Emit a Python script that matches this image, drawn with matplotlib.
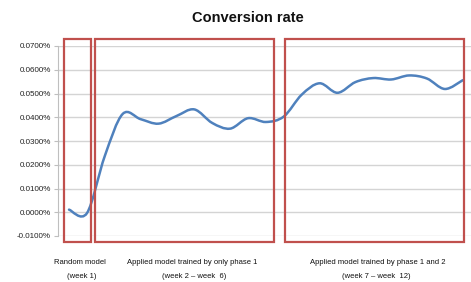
import numpy as np
import matplotlib
matplotlib.use("Agg")
import matplotlib.pyplot as plt
from matplotlib.path import Path
from matplotlib.patches import PathPatch, Rectangle

# ---- data (conversion rate, in percent) ----
rate = [0.0011, -0.0004, 0.0237, 0.0414, 0.0392, 0.0373, 0.0405, 0.0433,
        0.0376, 0.0352, 0.0396, 0.0380, 0.0403, 0.0495, 0.0543, 0.0503,
        0.0548, 0.0565, 0.0559, 0.0576, 0.0563, 0.0519, 0.0556]
yticks = [-0.01, 0.0, 0.01, 0.02, 0.03, 0.04, 0.05, 0.06, 0.07]
title = "Conversion rate"
group_labels = [("Random model", "(week 1)"),
                ("Applied model trained by only phase 1", "(week 2 \u2013 week  6)"),
                ("Applied model trained by phase 1 and 2", "(week 7 \u2013 week  12)")]

W, H = 471, 282
fig = plt.figure(figsize=(W / 100, H / 100), dpi=100)
plt.rcParams['font.family'] = ['Liberation Sans', 'DejaVu Sans']

def px(x, y):
    return x / W, 1 - y / H

l, t = px(58, 46)
_, b = px(58, 236)
ax = fig.add_axes([l, b, 1 - l, t - b])

x = np.arange(len(rate))
y = np.array(rate)

# smoothed line (Bezier through points, Excel-style)
verts = [(x[0], y[0])]
codes = [Path.MOVETO]
n = len(x)
for i in range(n - 1):
    p0 = np.array([x[max(i - 1, 0)], y[max(i - 1, 0)]])
    p1 = np.array([x[i], y[i]])
    p2 = np.array([x[i + 1], y[i + 1]])
    p3 = np.array([x[min(i + 2, n - 1)], y[min(i + 2, n - 1)]])
    c1 = p1 + (p2 - p0) / 6.0
    c2 = p2 - (p3 - p1) / 6.0
    verts += [tuple(c1), tuple(c2), tuple(p2)]
    codes += [Path.CURVE4] * 3
patch = PathPatch(Path(verts, codes), facecolor='none', edgecolor='#4f81bd',
                  lw=1.8, transform=ax.transData, capstyle='round', joinstyle='round')
ax.add_patch(patch)
ax.plot(x, y, alpha=0)

ax.set_xlim(-0.615, 22.46)
ax.set_ylim(-0.01, 0.07)
ax.set_yticks(yticks)
ax.set_yticklabels([f"{v:.4f}%" for v in yticks], fontsize=5.8, color='#222222')
ax.set_xticks([])
ax.grid(axis='y', color='#d4d4d4', lw=1.0)
ax.set_axisbelow(True)
for s in ['top', 'right', 'bottom']:
    ax.spines[s].set_visible(False)
ax.spines['left'].set_color('#bfbfbf')
ax.tick_params(axis='y', length=3, color='#bfbfbf', pad=2)

fig.text(*px(248, 18), title, ha='center', va='center', fontsize=10.5,
         fontweight='bold', color='#111111')

# red annotation boxes
boxes = [(64, 91), (95, 274), (285, 464)]
for x0, x1 in boxes:
    fx0, fy0 = px(x0, 242)
    fx1, fy1 = px(x1, 39)
    fig.patches.append(Rectangle((fx0, fy0), fx1 - fx0, fy1 - fy0, fill=False,
                                 edgecolor='#c0504d', lw=1.6,
                                 transform=fig.transFigure, figure=fig))

centers = [(80, 82), (192, 194), (378, 376)]
for (l1, l2), (c1, c2) in zip(group_labels, centers):
    fig.text(*px(c1, 263), l1, ha='center', va='center', fontsize=5.5, color='#111111')
    fig.text(*px(c2, 277), l2, ha='center', va='center', fontsize=5.5, color='#111111')

fig.savefig("out.png", dpi=100)
